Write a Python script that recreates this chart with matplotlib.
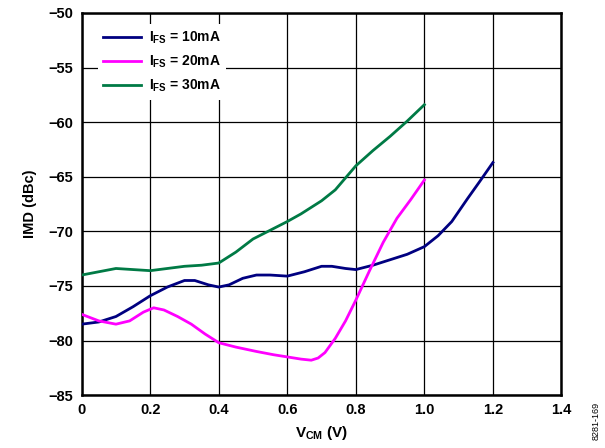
import matplotlib
matplotlib.use("Agg")
import matplotlib.pyplot as plt

plt.rcParams['font.family'] = ['Liberation Sans', 'DejaVu Sans']
plt.rcParams['font.weight'] = 'bold'
plt.rcParams['mathtext.fontset'] = 'custom'
plt.rcParams['mathtext.rm'] = 'Liberation Sans:bold'
plt.rcParams['mathtext.it'] = 'Liberation Sans:bold'
plt.rcParams['mathtext.bf'] = 'Liberation Sans:bold'

# IFS = 10mA
x10 = [0.0, 0.05, 0.1, 0.15, 0.2, 0.25, 0.3, 0.33, 0.37, 0.4, 0.43, 0.47, 0.51, 0.55, 0.6,
       0.65, 0.7, 0.73, 0.77, 0.8, 0.85, 0.9, 0.95, 1.0, 1.04, 1.08, 1.126, 1.16, 1.2]
y10 = [-78.5, -78.3, -77.8, -76.9, -75.9, -75.1, -74.5, -74.5, -74.9, -75.1, -74.9, -74.3, -74.0, -74.0, -74.1,
       -73.7, -73.2, -73.2, -73.4, -73.5, -73.1, -72.6, -72.1, -71.4, -70.4, -69.1, -67.0, -65.5, -63.7]

# IFS = 20mA
x20 = [0.0, 0.05, 0.1, 0.14, 0.18, 0.21, 0.24, 0.28, 0.32, 0.36, 0.4, 0.45, 0.51, 0.56, 0.6,
       0.64, 0.67, 0.69, 0.71, 0.74, 0.77, 0.8, 0.84, 0.88, 0.92, 0.96, 1.0]
y20 = [-77.6, -78.2, -78.5, -78.2, -77.4, -77.0, -77.2, -77.8, -78.5, -79.4, -80.2, -80.6, -81.0, -81.3, -81.5,
       -81.7, -81.8, -81.6, -81.1, -79.8, -78.2, -76.3, -73.6, -71.0, -68.8, -67.1, -65.3]

# IFS = 30mA
x30 = [0.0, 0.05, 0.1, 0.15, 0.2, 0.25, 0.3, 0.35, 0.4, 0.45, 0.5, 0.55, 0.6, 0.64, 0.7,
       0.74, 0.77, 0.8, 0.85, 0.9, 0.95, 1.0]
y30 = [-74.0, -73.7, -73.4, -73.5, -73.6, -73.4, -73.2, -73.1, -72.9, -71.9, -70.7, -69.9, -69.1, -68.4, -67.2,
       -66.2, -65.1, -64.0, -62.6, -61.3, -59.9, -58.4]

xticks = [0, 0.2, 0.4, 0.6, 0.8, 1.0, 1.2, 1.4]
xticklabels = ['0', '0.2', '0.4', '0.6', '0.8', '1.0', '1.2', '1.4']
yticks = [-85, -80, -75, -70, -65, -60, -55, -50]

fig = plt.figure(figsize=(6.05, 4.48), dpi=100)
ax = fig.add_axes([0.135, 0.118, 0.793, 0.853])

ax.plot(x10, y10, color='#000080', lw=2.0, label=r'$I_{FS}$ = 10mA', zorder=3)
ax.plot(x20, y20, color='#ff00ff', lw=2.0, label=r'$I_{FS}$ = 20mA', zorder=3)
ax.plot(x30, y30, color='#007a45', lw=2.0, label=r'$I_{FS}$ = 30mA', zorder=3)

ax.set_xlim(0, 1.4)
ax.set_ylim(-85, -50)
ax.set_xticks(xticks)
ax.set_xticklabels(xticklabels)
ax.set_yticks(yticks)
ax.grid(True, color='black', lw=0.9)
ax.tick_params(length=0, labelsize=10.5, pad=6)
for s in ax.spines.values():
    s.set_linewidth(1.8)

ax.set_xlabel(r'$V_{CM}$ (V)', fontsize=11, fontweight='bold', labelpad=5)
ax.set_ylabel('IMD (dBc)', fontsize=10.5, fontweight='bold', labelpad=8)

leg = ax.legend(loc='upper left', frameon=True, fontsize=10, handlelength=2.7,
                borderaxespad=0.8, labelspacing=0.55, handletextpad=0.6,
                bbox_to_anchor=(0.01, 1.0))
leg.get_frame().set_edgecolor('none')
leg.get_frame().set_facecolor('white')
leg.get_frame().set_alpha(1)
leg.set_zorder(5)

fig.text(0.985, 0.06, '8281-169', rotation=90, fontsize=6.5, fontweight='normal',
         ha='center', va='center')

fig.savefig('out.png', dpi=100)
